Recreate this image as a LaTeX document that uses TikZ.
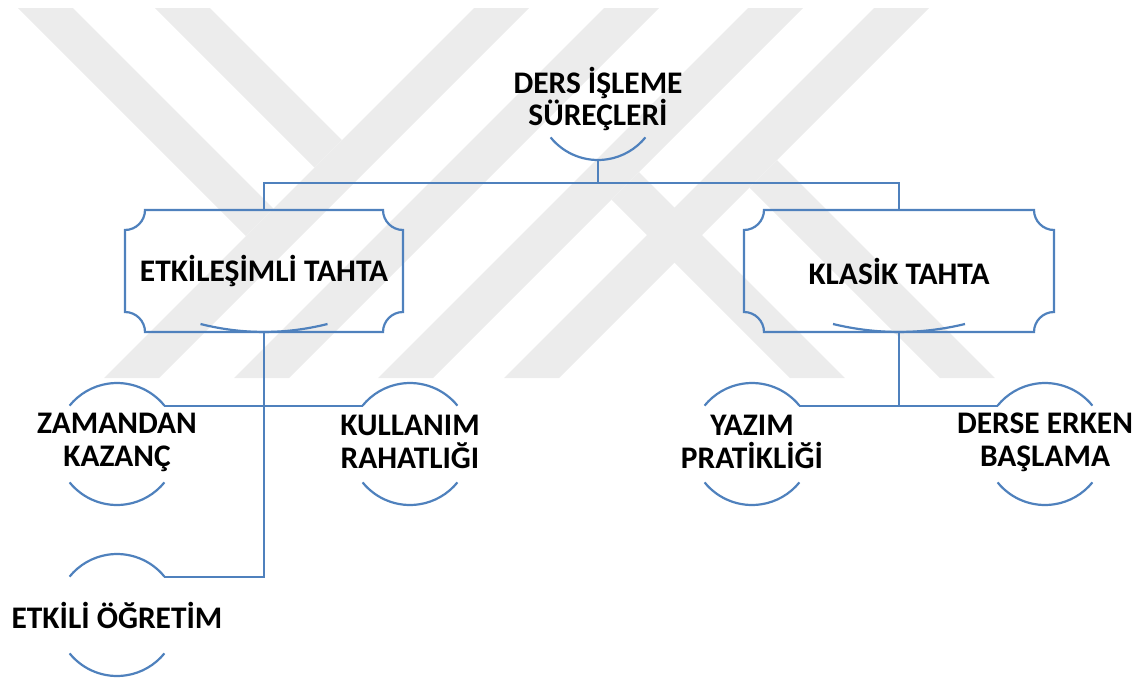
\documentclass[tikz,border=0pt]{standalone}
\usepackage{fontspec}
\setmainfont{Carlito}
\definecolor{ln}{RGB}{79,129,189}
\definecolor{wm}{RGB}{236,236,236}
\newcommand\leafarcs[1]{%
  \draw[conn] (#1.39) arc[start angle=39,end angle=141,radius=30.5pt];
  \draw[conn] (#1.219) arc[start angle=219,end angle=321,radius=30.5pt];}
\newcommand\plaque[2]{%
  \draw[conn] ([xshift=10pt]#1.north west) -- ([xshift=-10pt]#1.north east)
    .. controls ([xshift=-10pt,yshift=-5.5pt]#1.north east) and ([xshift=-5.5pt,yshift=-10pt]#1.north east) .. ([yshift=-10pt]#1.north east)
    -- ([yshift=10pt]#1.south east)
    .. controls ([xshift=-5.5pt,yshift=10pt]#1.south east) and ([xshift=-10pt,yshift=5.5pt]#1.south east) .. ([xshift=-10pt]#1.south east)
    -- ([xshift=10pt]#1.south west)
    .. controls ([xshift=10pt,yshift=5.5pt]#1.south west) and ([xshift=5.5pt,yshift=10pt]#1.south west) .. ([yshift=10pt]#1.south west)
    -- ([yshift=-10pt]#1.north west)
    .. controls ([xshift=5.5pt,yshift=-10pt]#1.north west) and ([xshift=10pt,yshift=-5.5pt]#1.north west) .. cycle;
  \draw[conn] ([xshift=-#2,yshift=4pt]#1.south) .. controls ([xshift=-#2/3,yshift=-1.3pt]#1.south) and ([xshift=#2/3,yshift=-1.3pt]#1.south) .. ([xshift=#2,yshift=4pt]#1.south);}
\begin{document}
\begin{tikzpicture}[x=0.5pt,y=0.5pt,
  conn/.style={draw=ln, line width=1.1pt},
  lbl/.style={font=\fontsize{15.7pt}{16.5pt}\selectfont\bfseries, align=center, text=black, inner sep=0pt},
  ring/.style={circle, minimum size=61pt, inner sep=0pt, outer sep=0pt},
  boxnode/.style={lbl, rectangle, minimum height=61pt, outer sep=0pt},
  wmark/.style={fill=wm, draw=none}]
\useasboundingbox (0,0) rectangle (1148,-681);
% watermark
\fill[wmark] (474,-8) -- (529,-8) -- (159,-378) -- (104,-378) -- cycle;
\fill[wmark] (604,-8) -- (659,-8) -- (289,-378) -- (234,-378) -- cycle;
\fill[wmark] (748,-8) -- (803,-8) -- (433,-378) -- (378,-378) -- cycle;
\fill[wmark] (874,-8) -- (929,-8) -- (559,-378) -- (504,-378) -- cycle;
\fill[wmark] (18,-8) -- (73,-8) -- (273.5,-208.5) -- (246,-236) -- cycle;
\fill[wmark] (155,-8) -- (210,-8) -- (342,-140) -- (314.5,-167.5) -- cycle;
\fill[wmark] (639,-172) -- (845,-378) -- (790,-378) -- (611.5,-199.5) -- cycle;
\fill[wmark] (777,-160) -- (995,-378) -- (940,-378) -- (749.5,-187.5) -- cycle;
% nodes
\node[ring] (top) at (598,-99) {};
\node[lbl] (topt) at (598,-99) {DERS İŞLEME\\SÜREÇLERİ};
\node[boxnode, minimum width=139pt] (lb) at (264,-271) {ETKİLEŞİMLİ TAHTA};
\node[boxnode, minimum width=155pt] (rb) at (899,-271) {KLASİK TAHTA};
\node[ring] (zam) at (117,-444) {};
\node[lbl] (zamt) at (117,-442) {ZAMANDAN\\KAZANÇ};
\node[ring] (kul) at (410,-444) {};
\node[lbl] (kult) at (410,-442) {KULLANIM\\RAHATLIĞI};
\node[ring] (yaz) at (752,-444) {};
\node[lbl] (yazt) at (752,-442) {YAZIM\\PRATİKLİĞİ};
\node[ring] (der) at (1045,-444) {};
\node[lbl] (dert) at (1045,-442) {DERSE ERKEN\\BAŞLAMA};
\node[ring] (etk) at (117,-615) {};
\node[lbl] (etkt) at (117,-615) {ETKİLİ ÖĞRETİM};
% decorations
\draw[conn] (top.219) arc[start angle=219,end angle=321,radius=30.5pt];
\leafarcs{zam}
\leafarcs{kul}
\leafarcs{yaz}
\leafarcs{der}
\leafarcs{etk}
\plaque{lb}{31.75pt}
\plaque{rb}{33pt}
% connectors
\coordinate (hub) at (598,-183);
\draw[conn] (top.south) -- (hub);
\draw[conn] (hub) -| (lb.north);
\draw[conn] (hub) -| (rb.north);
\draw[conn] (lb.south) |- (etk.39);
\draw[conn] (zam.39) -- (kul.141);
\draw[conn] (rb.south) -- (rb.south |- yaz.39);
\draw[conn] (yaz.39) -- (der.141);
\end{tikzpicture}
\end{document}
